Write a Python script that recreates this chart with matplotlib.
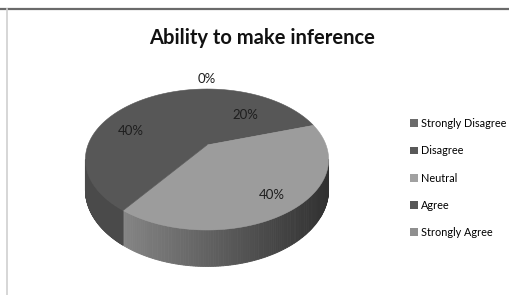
import matplotlib.pyplot as plt
import numpy as np
from matplotlib.patches import Polygon, Patch

categories = ["Strongly Disagree", "Disagree", "Neutral", "Agree", "Strongly Agree"]
values = [0, 20, 40, 40, 0]
top_gray = [0.42, 0.34, 0.61, 0.34, 0.55]   # grey level of each slice
legend_gray = [0.42, 0.35, 0.63, 0.34, 0.56]
label_r = [1.22, 0.6, 0.8, 0.7, 1.22]

plt.rcParams['font.family'] = ['Lato', 'DejaVu Sans']

fig = plt.figure(figsize=(5.1, 2.95), dpi=100)
ax = fig.add_axes([0, 0, 1, 1])
ax.set_xlim(0, 510)
ax.set_ylim(295, 0)
ax.axis('off')

# frame lines of the chart area
ax.plot([0, 510], [8.5, 8.5], color='#6a6a6a', lw=1.6)
ax.plot([7, 7], [9, 295], color='#cfcfcf', lw=1.2)

# projection of the tilted pie (simple perspective)
cx, cy, rx, ry, b = 207, 145, 119, 67.5, 0.2057
depth = 29

def proj(phi, r=1.0):
    u = r * np.sin(np.radians(phi))
    v = -r * np.cos(np.radians(phi))
    d = 1 - b * v
    return cx + rx * u / d, cy + ry * v / d, d

total = sum(values)
angles = np.concatenate([[0], np.cumsum(values) / total * 360])

# side walls first
phi_r = 90 + np.degrees(np.arcsin(b))
phi_l = 270 - np.degrees(np.arcsin(b))
for i in range(len(values)):
    a0, a1 = max(angles[i], phi_r), min(angles[i + 1], phi_l)
    if a1 <= a0:
        continue
    ph = np.linspace(a0, a1, 120)
    for p0, p1 in zip(ph[:-1], ph[1:]):
        x0, y0, d0 = proj(p0)
        x1, y1, d1 = proj(p1)
        xm = (x0 + x1) / 2
        f = np.clip(0.85 - 0.00263 * (xm - 123), 0.3, 0.85)
        g = top_gray[i] * f
        quad = [(x0, y0), (x1, y1), (x1, y1 + depth / d1), (x0, y0 + depth / d0)]
        ax.add_patch(Polygon(quad, closed=True, facecolor=(g, g, g),
                             edgecolor=(g, g, g), lw=0.6))

# top faces
for i in range(len(values)):
    if values[i] == 0:
        continue
    ph = np.linspace(angles[i], angles[i + 1], 200)
    xs, ys, _ = proj(ph)
    pts = [(cx, cy)] + list(zip(xs, ys))
    g = top_gray[i]
    ax.add_patch(Polygon(pts, closed=True, facecolor=(g, g, g),
                         edgecolor=(g, g, g), lw=0.4))

# percentage labels
shown = set()
for i in range(len(values)):
    mid = (angles[i] + angles[i + 1]) / 2
    lx, ly, _ = proj(mid, label_r[i])
    key = (round(lx), round(ly))
    if key in shown:
        continue
    shown.add(key)
    ax.text(lx, ly, f"{values[i]}%", ha='center', va='center',
            fontsize=9.5, color='#1e1e1e')

ax.text(262, 38, "Ability to make inference", ha='center', va='center',
        fontsize=14.5, fontweight='bold', color='#111111')

handles = [Patch(facecolor=(g, g, g), edgecolor='none') for g in legend_gray]
fig.legend(handles, categories, loc='center left',
           bbox_to_anchor=(410 / 510, 1 - 178 / 295), frameon=False,
           fontsize=7.8, handlelength=0.7, handleheight=0.7,
           handletextpad=0.3, labelspacing=1.5, borderaxespad=0,
           borderpad=0)

fig.savefig("out.png", dpi=100)
